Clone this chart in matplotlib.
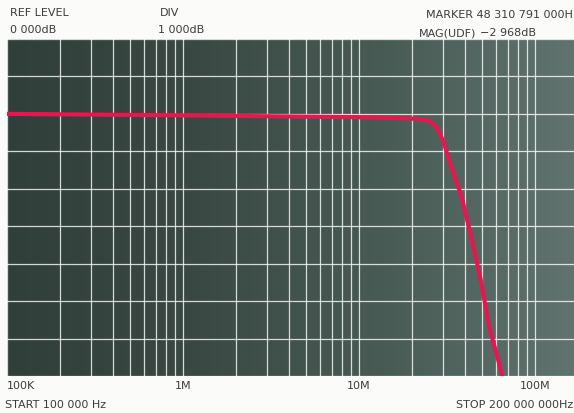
import matplotlib
matplotlib.use("Agg")
import matplotlib.pyplot as plt
from matplotlib.colors import LinearSegmentedColormap
import numpy as np

# trace (frequency in Hz, magnitude in dB)
freq_hz = [1e5, 1e6, 1e7, 2.07e7, 2.49e7, 2.76e7, 3.02e7, 3.27e7,
           3.58e7, 3.82e7, 4.35e7, 4.9e7, 5.5e7, 6.2e7, 7.0e7]
mag_db = [0.0, -0.04, -0.09, -0.13, -0.18, -0.35, -0.74, -1.28,
          -1.81, -2.2, -3.3, -4.4, -5.7, -6.6, -7.6]

decades = [1e5, 1e6, 1e7, 1e8]
decade_labels = ["100K", "1M", "10M", "100M"]

start_hz = 1e5
stop_hz = 2e8
ref_db = 2
bottom_db = -7

fig = plt.figure(figsize=(5.74, 4.14), dpi=100)
fig.patch.set_facecolor("#fbfbf9")

W, H = 574, 414
ax = fig.add_axes([7 / W, 37 / H, 581 / W, 337 / H])
ax.set_xscale("log")
ax.set_xlim(start_hz, stop_hz)
ax.set_ylim(bottom_db, ref_db)

# screen background, darker on the left like the photo
cmap = LinearSegmentedColormap.from_list(
    "screen", ["#313f3a", "#3a4944", "#4a5c56", "#627570"])
grad = np.linspace(0, 1, 256).reshape(1, -1)
ax.imshow(grad, cmap=cmap, extent=[0, 1, 0, 1], transform=ax.transAxes,
          aspect="auto", zorder=0)

# graticule
ax.set_xticks(decades)
ax.set_xticklabels(decade_labels)
ax.xaxis.set_minor_locator(matplotlib.ticker.LogLocator(base=10, subs=range(2, 10)))
ax.xaxis.set_minor_formatter(matplotlib.ticker.NullFormatter())
ax.set_yticks(np.arange(bottom_db, ref_db + 1, 1))
ax.set_yticklabels([])
ax.grid(True, which="both", color="white", alpha=0.8, linewidth=0.9)
ax.tick_params(which="both", length=0)
ax.tick_params(axis="x", pad=3, labelsize=8, labelcolor="#3c3c3c")
ax.xaxis.get_majorticklabels()[0].set_horizontalalignment("left")
for s in ax.spines.values():
    s.set_visible(False)

ax.plot(freq_hz, mag_db, color="#e8164e", linewidth=3, solid_capstyle="round",
        solid_joinstyle="round", zorder=3)

txt = dict(fontsize=8, color="#3c3c3c", va="center")
fig.text(10 / W, 1 - 13 / H, "REF LEVEL", **txt)
fig.text(10 / W, 1 - 30 / H, "0 000dB", **txt)
fig.text(160 / W, 1 - 13 / H, "DIV", **txt)
fig.text(158 / W, 1 - 30 / H, "1 000dB", **txt)
fig.text(573 / W, 1 - 15 / H, "MARKER 48 310 791 000H", ha="right", **txt)
fig.text(419 / W, 1 - 33 / H, "MAG(UDF)", **txt)
fig.text(536 / W, 1 - 33 / H, "\u22122 968dB", ha="right", **txt)
fig.text(5 / W, 1 - 405 / H, "START 100 000 Hz", **txt)
fig.text(573 / W, 1 - 405 / H, "STOP 200 000 000Hz", ha="right", **txt)

fig.savefig("out.png", dpi=100)
